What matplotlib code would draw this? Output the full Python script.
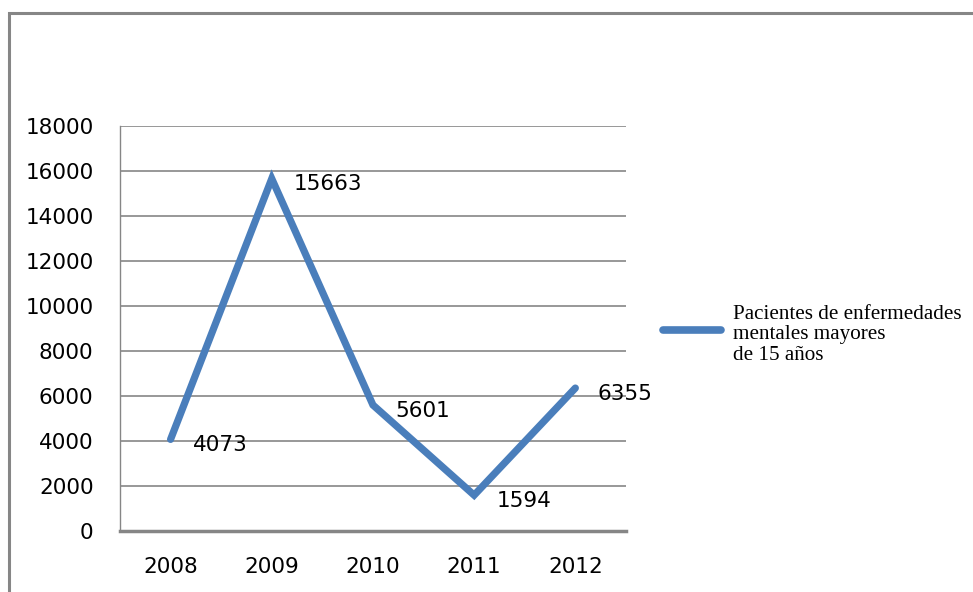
import matplotlib
matplotlib.use("Agg")
import matplotlib.pyplot as plt
from matplotlib.patches import Rectangle

years = ["2008", "2009", "2010", "2011", "2012"]
pacientes = [4073, 15663, 5601, 1594, 6355]
y_ticks = [0, 2000, 4000, 6000, 8000, 10000, 12000, 14000, 16000, 18000]
serie = "Pacientes de enfermedades\nmentales mayores\nde 15 años"

azul = "#4a7ebb"
gris = "#868686"

fig = plt.figure(figsize=(9.73, 5.92), dpi=100)
ax = fig.add_axes([0.1233, 0.103, 0.520, 0.684])

x = list(range(len(years)))
ax.plot(x, pacientes, color=azul, lw=5.2, solid_capstyle="round",
        solid_joinstyle="miter")

for xi, v in zip(x, pacientes):
    ax.annotate(str(v), (xi, v), xytext=(16, -4), textcoords="offset points",
                fontsize=15.5, va="center", ha="left", family="DejaVu Sans",
                color="black")

ax.set_xlim(-0.5, len(years) - 0.5)
ax.set_ylim(0, 18000)
ax.set_xticks(x)
ax.set_xticklabels(years)
ax.set_yticks(y_ticks)
ax.tick_params(axis="both", length=0, labelsize=15.5, colors="black")
ax.tick_params(axis="y", pad=19)
ax.tick_params(axis="x", pad=19)
ax.yaxis.grid(True, color=gris, lw=1.2)
ax.set_axisbelow(True)
for s in ["top", "right"]:
    ax.spines[s].set_visible(False)
ax.spines["left"].set_color(gris)
ax.spines["left"].set_linewidth(1.0)
ax.spines["bottom"].set_color(gris)
ax.spines["bottom"].set_linewidth(2.5)

# leyenda a la derecha
fig.lines.append(plt.Line2D([663 / 973, 721 / 973], [1 - 330 / 592] * 2,
                            transform=fig.transFigure, color=azul, lw=5.5,
                            solid_capstyle="round"))
fig.text(733 / 973, 1 - 335 / 592, serie, family="Liberation Serif",
         fontsize=15.2, va="center", ha="left", linespacing=1.12)

# marco del gráfico
fig.patches.append(Rectangle((8.5 / 973, -0.1), 1.1, 1.1 - 12.5 / 592,
                             transform=fig.transFigure, fill=False,
                             edgecolor=gris, lw=2.2))

fig.savefig("out.png", dpi=100)
